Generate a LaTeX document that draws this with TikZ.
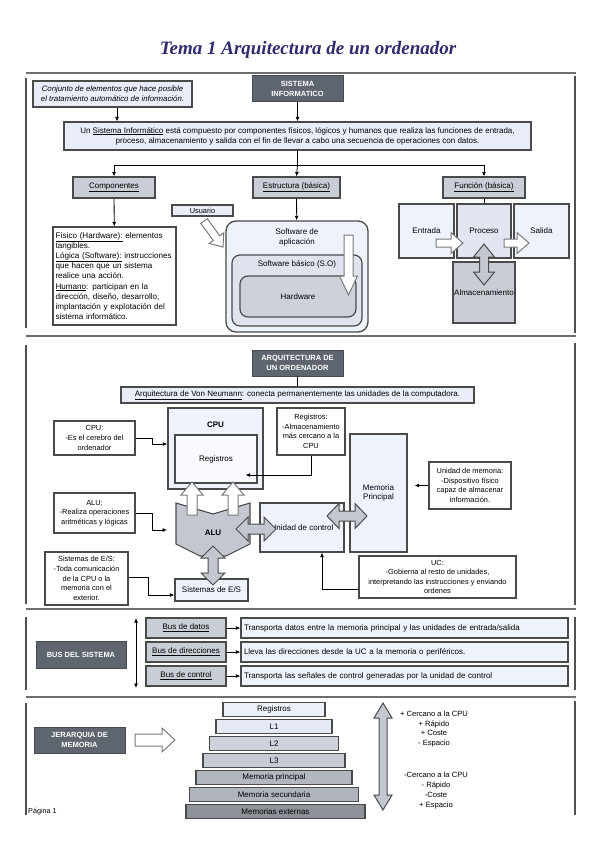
\documentclass[tikz,border=0pt]{standalone}
\usepackage{fontspec}
\setmainfont{Liberation Sans}
\newfontfamily\titlefont{Liberation Serif}
\usetikzlibrary{arrows.meta,calc}
\definecolor{bord}{HTML}{4A4A4A}
\definecolor{lblue}{HTML}{E8EDF7}
\definecolor{vlblue}{HTML}{EEF2FB}
\definecolor{procc}{HTML}{E1E6F0}
\definecolor{gbox}{HTML}{C9CDD5}
\definecolor{dark}{HTML}{5E656E}
\definecolor{darkb}{HTML}{474C53}
\definecolor{sepc}{HTML}{6E6E6E}
\definecolor{vl}{HTML}{505050}
\definecolor{titlec}{HTML}{2E2C6E}
\definecolor{alug}{HTML}{C3C7CF}
\definecolor{arrb}{HTML}{7A7A7A}
\definecolor{midb}{HTML}{DEE3EE}
\definecolor{hwc}{HTML}{CDD1D9}
\definecolor{pyA}{HTML}{EDF1FA}
\definecolor{pyB}{HTML}{E4E9F4}
\definecolor{pyC}{HTML}{CDD1D9}
\definecolor{pyD}{HTML}{C6CAD2}
\definecolor{pyE}{HTML}{B3B7BF}
\definecolor{pyF}{HTML}{B0B4BC}
\definecolor{pyG}{HTML}{8D9299}

\newcommand\fs{\fontsize{8}{9.8}\selectfont}
\newcommand\fsn{\fontsize{7.4}{9.6}\selectfont}
\newcommand\fsb{\fontsize{7.5}{9.6}\selectfont\bfseries}

% single block arrow: style, x1,y1, x2,y2, shaft half width, head half width, head length
\newcommand\sarrow[8]{%
  \pgfmathsetmacro\arang{atan2(-(#5-#3),#4-#2)}%
  \pgfmathsetmacro\arlen{veclen(#4-#2,#5-#3)}%
  \begin{scope}[shift={(#2,#3)},rotate=\arang]
    \draw[#1] (0,#6) -- ({\arlen-#8},#6) -- ({\arlen-#8},#7) -- (\arlen,0) -- ({\arlen-#8},-#7) -- ({\arlen-#8},-#6) -- (0,-#6) -- cycle;
  \end{scope}}
% double block arrow
\newcommand\darrow[8]{%
  \pgfmathsetmacro\arang{atan2(-(#5-#3),#4-#2)}%
  \pgfmathsetmacro\arlen{veclen(#4-#2,#5-#3)}%
  \begin{scope}[shift={(#2,#3)},rotate=\arang]
    \draw[#1] (0,0) -- (#8,#7) -- (#8,#6) -- ({\arlen-#8},#6) -- ({\arlen-#8},#7) -- (\arlen,0) -- ({\arlen-#8},-#7) -- ({\arlen-#8},-#6) -- (#8,-#6) -- (#8,-#7) -- cycle;
  \end{scope}}

\begin{document}
\begin{tikzpicture}[x=1pt,y=-1pt,
  bx/.style={draw=bord, line width=1.2pt, inner sep=1pt, align=center, font=\fs},
  lb/.style={bx, fill=lblue},
  gb/.style={bx, fill=gbox},
  wb/.style={bx, fill=white, font=\fsn},
  db/.style={draw=darkb, fill=dark, text=white, line width=1pt, align=center, font=\fsb},
  conn/.style={draw=black, line width=0.8pt, -{Latex[length=4.5pt,width=4pt]}},
  plain/.style={draw=black, line width=0.8pt},
  wa/.style={draw=arrb, fill=white, line width=1pt},
  ga/.style={draw=bord, fill=alug, line width=1pt},
  vline/.style={draw=vl, line width=1.2pt},
  hline/.style={draw=sepc, line width=2pt},
  lbl/.style={font=\fs, align=center, inner sep=0pt},
  pyr/.style={draw=bord, line width=1.4pt, font=\fs, inner sep=0pt, minimum height=14},
]
\useasboundingbox (0,0) rectangle (599,848);
\fill[white] (0,0) rectangle (599,848);

% ---------- title and frame lines ----------
\node[font=\titlefont\bfseries\itshape\fontsize{19}{22}\selectfont, text=titlec] (title) at (308,50) {Tema 1 Arquitectura de un ordenador};
\foreach \yy in {73,336,609,697} \draw[hline] (26,\yy) -- (576,\yy);
\draw[vline] (26,78) -- (26,328);
\draw[vline] (575,76) -- (575,333);
\draw[vline] (26,345) -- (26,604);
\draw[vline] (575,343) -- (575,605);
\draw[vline] (26,617) -- (26,690);
\draw[vline] (575,617) -- (575,690);
\draw[vline] (26,703) -- (26,815);
\draw[vline] (575,701) -- (575,815);

% ---------- section 1 ----------
\node[lb, font=\fontsize{7.8}{9.6}\selectfont\itshape, minimum width=159, minimum height=26] (conj) at (112.5,94) {Conjunto de elementos que hace posible\\el tratamiento automático de información.};
\node[db, minimum width=91, minimum height=26] (sis) at (297.5,89) {SISTEMA\\INFORMATICO};
\node[lb, minimum width=467, minimum height=28] (sisbig) at (297.5,136) {Un \underline{Sistema Informático} está compuesto por componentes físicos, lógicos y humanos que realiza las funciones de entrada,\\proceso, almacenamiento y salida con el fin de llevar a cabo una secuencia de operaciones con datos.};
\draw[conn] (conj.south -| 117,0) -- (sisbig.north -| 117,0);
\draw[conn] (sis) -- (sisbig);

\node[gb, minimum width=82, minimum height=21] (comp) at (114,187.5) {\underline{Componentes}};
\node[gb, minimum width=87, minimum height=21] (estr) at (296.5,187.5) {\underline{Estructura (básica)}};
\node[gb, minimum width=82, minimum height=21] (func) at (484,187.5) {\underline{Función (básica)}};
\coordinate (hub) at (297.5,165);
\draw[plain] (sisbig.south) -- (hub);
\draw[plain] (comp.north |- hub) -- (func.north |- hub);
\draw[conn] (comp.north |- hub) -- (comp.north);
\draw[conn] (hub) -- (estr.north);
\draw[conn] (func.north |- hub) -- (func.north);

\node[bx, fill=white, align=left, text width=118, minimum height=98, inner sep=2.5pt, font=\fontsize{8.1}{10.2}\selectfont] (comptxt) at (114.5,276) {\underline{Físico (Hardware):} elementos\\tangibles.\\\underline{Lógica (Software):} instrucciones\\que hacen que un sistema\\realice una acción.\\\underline{Humano}: participan en la\\dirección, diseño, desarrollo,\\implantación y explotación del\\sistema informático.};
\draw[conn] (comp) -- (comptxt);

\node[lb, minimum width=61, minimum height=11, inner sep=0pt, font=\fontsize{7.4}{8}\selectfont] (usr) at (202.5,210.5) {Usuario};
\node[draw=bord, line width=1.3pt, fill=vlblue, rounded corners=10pt, minimum width=142, minimum height=111] (app) at (297,276.5) {};
\node[draw=bord, line width=1.2pt, fill=midb, rounded corners=8pt, minimum width=130, minimum height=71] (sbas) at (297,290.5) {};
\node[draw=bord, line width=1.2pt, fill=hwc, rounded corners=8pt, minimum width=116, minimum height=41, font=\fs] (hw) at (298,296.5) {Hardware};
\node[lbl] (apptxt) at (297,237.5) {Software de\\aplicación};
\node[lbl] (sbastxt) at (297,264) {Software básico (S.O)};
\draw[conn] (estr) -- (app);
\sarrow{wa}{348.5}{235}{348.5}{295}{4.5}{9}{19}
\sarrow{wa}{204}{221}{223}{247}{4}{9}{11}

\node[bx, fill=vlblue, minimum width=55, minimum height=54] (ent) at (426.5,231) {Entrada};
\node[bx, fill=vlblue, minimum width=55, minimum height=54] (sal) at (541.5,231) {Salida};
\node[bx, fill=procc, minimum width=54, minimum height=54] (proc) at (484,231) {Proceso};
\node[gb, minimum width=62, minimum height=61] (alm) at (484,292.5) {Almacenamiento};
\draw[plain] (func) -- (proc);
\sarrow{wa}{436}{243}{463}{243}{4}{10.5}{12}
\sarrow{wa}{504}{243}{529}{243}{4}{10.5}{12}
\darrow{ga}{484}{244}{484}{285}{4.5}{10.5}{13}

% ---------- section 2 ----------
\node[db, minimum width=91, minimum height=26] (arq) at (297.5,363) {ARQUITECTURA DE\\UN ORDENADOR};
\node[lb, minimum width=353, minimum height=16] (vn) at (297.5,395) {\underline{Arquitectura de Von Neumann}: conecta permanentemente las unidades de la computadora.};
\draw[plain] (arq) -- (vn);

\node[bx, fill=vlblue, minimum width=95, minimum height=81] (cpu) at (215.5,448.5) {};
\node[lbl, font=\fs\bfseries] (cputxt) at (215.5,425) {CPU};
\node[bx, fill=white!60!vlblue, minimum width=82, minimum height=48] (reg) at (216,459) {Registros};
\node[bx, fill=vlblue, minimum width=57, minimum height=118] (mem) at (378.5,493) {Memoria\\Principal};
\node[bx, fill=vlblue, minimum width=84, minimum height=49] (uc) at (302,527.5) {Unidad de control};

\node[wb, minimum width=81, minimum height=34] (cpunote) at (94.5,438) {CPU:\\-Es el cerebro del\\ordenador};
\node[wb, minimum width=68, minimum height=47] (regnote) at (311,431.5) {Registros:\\-Almacenamiento\\más cercano a la\\CPU};
\node[wb, minimum width=82, minimum height=47] (memnote) at (470,485.5) {Unidad de memoria:\\-Dispositivo físico\\capaz de almacenar\\información.};
\node[wb, minimum width=81, minimum height=40] (alunote) at (94.5,513) {ALU:\\-Realiza operaciones\\aritméticas y lógicas};
\node[wb, minimum width=83, minimum height=53] (esnote) at (86.5,578.5) {Sistemas de E/S:\\-Toda comunicación\\de la CPU o la\\memoria con el\\exterior.};
\node[wb, minimum width=157, minimum height=42] (ucnote) at (437.5,577) {UC:\\-Gobierna al resto de unidades,\\interpretando las instrucciones y enviando\\ordenes};
\node[bx, fill=vlblue, minimum width=73, minimum height=22] (es) at (211.5,590) {Sistemas de E/S};

% ALU shape
\draw[ga, line width=1.1pt] (176,503) -- (213,514) -- (250,503) -- (250,544) -- (226,556) -- (200,556) -- (176,544) -- cycle;
\node[lbl, font=\fs\bfseries] (alutxt) at (213,533) {ALU};
\coordinate (aluin) at (167,530);

\sarrow{wa}{192}{515}{192}{482}{5}{11}{13}
\sarrow{wa}{233}{515}{233}{482}{5}{11}{13}
\darrow{ga}{236}{529}{276}{529}{5}{12}{12}
\darrow{ga}{327}{516}{367}{516}{5}{12.5}{12}
\darrow{ga}{213}{546}{213}{585}{5}{12}{12}

\draw[conn] (cpunote.east) -- ++(17,0) |- ([yshift=4.5pt]cpu.west);
\draw[conn] (regnote.south) |- ([xshift=-12pt,yshift=-16pt]reg.east);
\draw[conn] (alunote.east) -- ++(17,0) |- (aluin);
\draw[conn] ([yshift=1.5pt]esnote.east) -- ++(20,0) |- ([yshift=-5pt]es.west);
\draw[conn] ([yshift=-12pt]ucnote.west) -| ([xshift=20pt]uc.south);
\draw[conn, shorten >=7pt] (memnote.west) -- (memnote.west -| mem.east);

% ---------- section 3 ----------
\node[db, minimum width=90, minimum height=27] (bus) at (81,654.5) {BUS DEL SISTEMA};
\coordinate (bt) at (136,618);
\coordinate (bb) at (136,688);
\draw[draw=black, line width=0.8pt, {Latex[length=4.5pt,width=4pt]}-{Latex[length=4.5pt,width=4pt]}] (bt) -- (bb);
\node[gb, minimum width=80, minimum height=20] (b1) at (186,628) {\underline{Bus de datos}};
\node[gb, minimum width=80, minimum height=20] (b2) at (186,652) {\underline{Bus de direcciones}};
\node[gb, minimum width=80, minimum height=20] (b3) at (186,676) {\underline{Bus de control}};
\node[lb, fill=vlblue, minimum width=327, minimum height=20, text width=321, align=left, inner sep=3pt] (d1) at (404.5,628) {Transporta datos entre la memoria principal y las unidades de entrada/salida};
\node[lb, fill=vlblue, minimum width=327, minimum height=20, text width=321, align=left, inner sep=3pt] (d2) at (404.5,652) {Lleva las direcciones desde la UC a la memoria o periféricos.};
\node[lb, fill=vlblue, minimum width=327, minimum height=20, text width=321, align=left, inner sep=3pt] (d3) at (404.5,676) {Transporta las señales de control generadas por la unidad de control};
\draw[conn] (b1) -- (d1);
\draw[conn] (b2) -- (d2);
\draw[conn] (b3) -- (d3);

% ---------- section 4 ----------
\node[db, minimum width=91, minimum height=26] (jer) at (79.5,740) {JERARQUIA DE\\MEMORIA};
\sarrow{wa}{135}{740}{175}{740}{6}{12}{13}
\node[pyr, fill=pyA, minimum width=102] (p1) at (274,709.5) {Registros};
\node[pyr, fill=pyB, minimum width=116] (p2) at (274,726.5) {L1};
\node[pyr, fill=pyC, minimum width=129] (p3) at (274,743.5) {L2};
\node[pyr, fill=pyD, minimum width=142] (p4) at (274,760.5) {L3};
\node[pyr, fill=pyE, minimum width=156] (p5) at (274,777.5) {Memoria principal};
\node[pyr, fill=pyF, minimum width=169] (p6) at (274,794.5) {Memoria secundaria};
\node[pyr, fill=pyG, minimum width=179] (p7) at (275.5,811.5) {Memorias externas};
\darrow{ga}{383}{703}{383}{810}{4}{9}{15}
\node[lbl, font=\fontsize{7.6}{9.9}\selectfont] (plus) at (434,729) {+ Cercano a la CPU\\+ Rápido\\+ Coste\\- Espacio};
\node[lbl, font=\fontsize{7.6}{9.9}\selectfont] (minus) at (436,790.5) {-Cercano a la CPU\\- Rápido\\-Coste\\+ Espacio};
\node[anchor=west, font=\fontsize{7.2}{8}\selectfont, inner sep=0pt] (pag) at (28,812) {Página 1};
\end{tikzpicture}
\end{document}
